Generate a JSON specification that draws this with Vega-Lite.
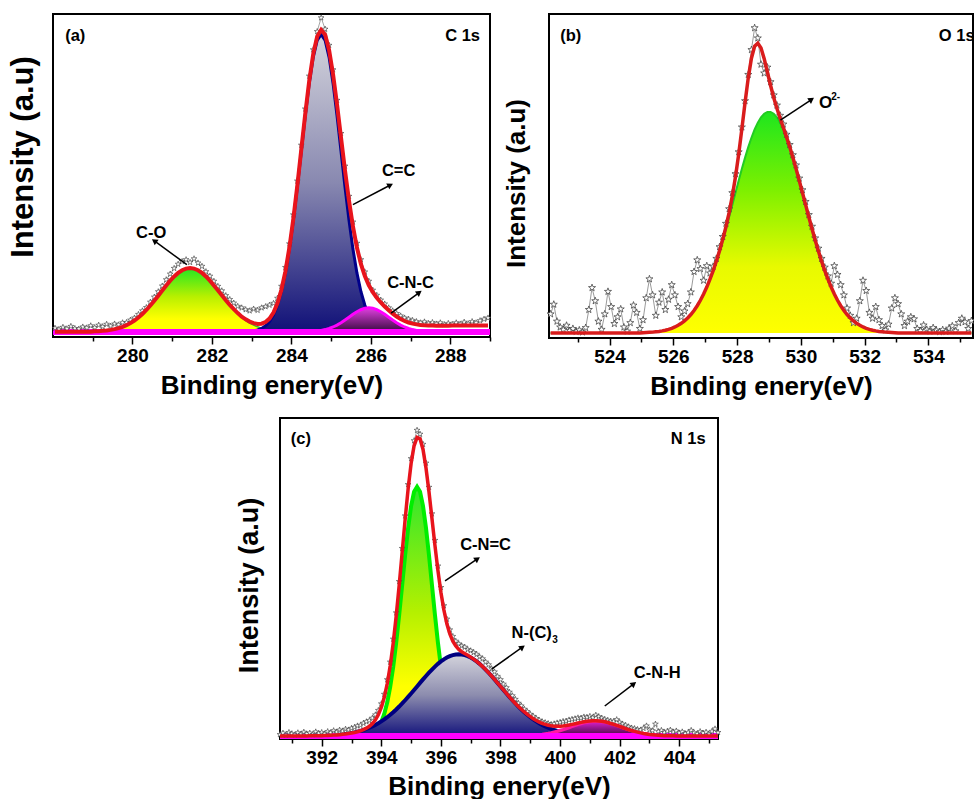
{
"$schema": "https://vega.github.io/schema/vega-lite/v6.json",
"padding": {"left": 5, "top": 12, "right": 0, "bottom": 0},
"background": "white",
"spacing": 17,
"config": {
  "font": "Liberation Sans",
  "view": {"stroke": "black", "strokeWidth": 2},
  "axis": {"domain": false, "grid": false, "tickColor": "black", "tickWidth": 1.5, "labelColor": "black", "titleColor": "black", "labelFont": "Liberation Sans", "titleFont": "Liberation Sans", "labelFontWeight": "bold", "titleFontWeight": "bold", "labelFontSize": 19, "titleFontSize": 26, "labelPadding": 2},
  "text": {"font": "Liberation Sans", "fontWeight": "bold", "fontSize": 16.5, "color": "black"}
},
"datasets": {
"a": [
{"x":278.05,"obs":1.2,"fit":0},{"x":278.15,"obs":0.8,"fit":0},{"x":278.25,"obs":1.5,"fit":0},{"x":278.35,"obs":1.0,"fit":0},{"x":278.45,"obs":1.8,"fit":0},{"x":278.55,"obs":1.1,"fit":0},{"x":278.65,"obs":0.9,"fit":0},{"x":278.75,"obs":1.6,"fit":0},{"x":278.85,"obs":1.3,"fit":0},{"x":278.95,"obs":2.0,"fit":0},
{"x":279.05,"obs":1.4,"fit":0.13,"p1":0.13},{"x":279.15,"obs":2.2,"fit":0.19,"p1":0.19},{"x":279.25,"obs":1.7,"fit":0.29,"p1":0.29},{"x":279.35,"obs":2.5,"fit":0.42,"p1":0.42},{"x":279.45,"obs":1.9,"fit":0.61,"p1":0.61},{"x":279.55,"obs":2.6,"fit":0.86,"p1":0.86},{"x":279.65,"obs":2.3,"fit":1.19,"p1":1.19},{"x":279.75,"obs":3.0,"fit":1.63,"p1":1.63},{"x":279.85,"obs":3.1,"fit":2.19,"p1":2.19},{"x":279.95,"obs":3.9,"fit":2.88,"p1":2.88},
{"x":280.05,"obs":4.6,"fit":3.73,"p1":3.73},{"x":280.15,"obs":5.8,"fit":4.74,"p1":4.74},{"x":280.25,"obs":7.0,"fit":5.92,"p1":5.92},{"x":280.35,"obs":8.1,"fit":7.27,"p1":7.27},{"x":280.45,"obs":9.9,"fit":8.76,"p1":8.76},{"x":280.55,"obs":11.6,"fit":10.37,"p1":10.37},{"x":280.65,"obs":13.4,"fit":12.06,"p1":12.06},{"x":280.75,"obs":15.3,"fit":13.78,"p1":13.78},{"x":280.85,"obs":17.4,"fit":15.47,"p1":15.47},{"x":280.95,"obs":19.3,"fit":17.06,"p1":17.06},
{"x":281.05,"obs":21.2,"fit":18.48,"p1":18.48},{"x":281.15,"obs":22.6,"fit":19.66,"p1":19.66},{"x":281.25,"obs":23.5,"fit":20.56,"p1":20.56},{"x":281.35,"obs":24.1,"fit":21.11,"p1":21.11},{"x":281.45,"obs":23.2,"fit":21.3,"p1":21.3},{"x":281.55,"obs":24.4,"fit":21.11,"p1":21.11},{"x":281.65,"obs":23.0,"fit":20.56,"p1":20.56},{"x":281.75,"obs":21.9,"fit":19.66,"p1":19.66},{"x":281.85,"obs":20.1,"fit":18.48,"p1":18.48},{"x":281.95,"obs":18.6,"fit":17.06,"p1":17.06},
{"x":282.05,"obs":16.9,"fit":15.47,"p1":15.47},{"x":282.15,"obs":15.2,"fit":13.83,"p1":13.78},{"x":282.25,"obs":13.7,"fit":12.16,"p1":12.06},{"x":282.35,"obs":12.1,"fit":10.52,"p1":10.37},{"x":282.45,"obs":10.8,"fit":8.96,"p1":8.76},{"x":282.55,"obs":9.6,"fit":7.52,"p1":7.27},{"x":282.65,"obs":8.5,"fit":6.22,"p1":5.92},{"x":282.75,"obs":8.0,"fit":5.04,"p1":4.74},{"x":282.85,"obs":7.4,"fit":4.13,"p1":3.73,"p2":0.05},{"x":282.95,"obs":7.0,"fit":3.38,"p1":2.88,"p2":0.15},
{"x":283.05,"obs":7.6,"fit":2.85,"p1":2.19,"p2":0.31},{"x":283.15,"obs":7.2,"fit":2.58,"p1":1.63,"p2":0.6},{"x":283.25,"obs":8.0,"fit":2.69,"p1":1.19,"p2":1.1},{"x":283.35,"obs":8.4,"fit":3.23,"p1":0.86,"p2":1.97},{"x":283.45,"obs":8.9,"fit":4.39,"p1":0.61,"p2":3.38},{"x":283.55,"obs":9.5,"fit":6.4,"p1":0.42,"p2":5.58},{"x":283.65,"obs":11.2,"fit":9.53,"p1":0.29,"p2":8.84},{"x":283.75,"obs":15.2,"fit":14.04,"p1":0.19,"p2":13.45},{"x":283.85,"obs":21.5,"fit":20.2,"p1":0.13,"p2":19.67},{"x":283.95,"obs":29.4,"fit":28.11,"p1":0.08,"p2":27.63},
{"x":284.05,"obs":39.1,"fit":37.8,"p1":0.05,"p2":37.3},{"x":284.15,"obs":50.4,"fit":48.9,"p2":48.39},{"x":284.25,"obs":62.4,"fit":60.91,"p2":60.29},{"x":284.35,"obs":74.5,"fit":72.92,"p2":72.17,"p3":0.05},{"x":284.45,"obs":85.5,"fit":83.92,"p2":83.03,"p3":0.09},{"x":284.55,"obs":94.3,"fit":92.82,"p2":91.76,"p3":0.16},{"x":284.65,"obs":100.4,"fit":98.7,"p2":97.43,"p3":0.27},{"x":284.75,"obs":105.0,"fit":100.95,"p2":99.4,"p3":0.45},{"x":284.85,"obs":101.2,"fit":99.34,"p2":97.43,"p3":0.71},{"x":284.95,"obs":95.8,"fit":94.14,"p2":91.76,"p3":1.08},
{"x":285.05,"obs":87.6,"fit":86.01,"p2":83.03,"p3":1.58},{"x":285.15,"obs":77.4,"fit":75.89,"p2":72.17,"p3":2.22},{"x":285.25,"obs":66.3,"fit":64.89,"p2":60.29,"p3":3.0},{"x":285.35,"obs":55.4,"fit":53.93,"p2":48.39,"p3":3.89},{"x":285.45,"obs":45.3,"fit":43.85,"p2":37.3,"p3":4.85},{"x":285.55,"obs":36.7,"fit":35.19,"p2":27.63,"p3":5.81},{"x":285.65,"obs":29.6,"fit":28.15,"p2":19.67,"p3":6.68},{"x":285.75,"obs":24.1,"fit":22.68,"p2":13.45,"p3":7.38},{"x":285.85,"obs":20.0,"fit":18.58,"p2":8.84,"p3":7.84},{"x":285.95,"obs":16.9,"fit":15.53,"p2":5.58,"p3":8},
{"x":286.05,"obs":13.9,"fit":13.22,"p2":3.38,"p3":7.84},{"x":286.15,"obs":12.2,"fit":11.35,"p2":1.97,"p3":7.38},{"x":286.25,"obs":10.6,"fit":9.78,"p2":1.1,"p3":6.68},{"x":286.35,"obs":9.3,"fit":8.41,"p2":0.6,"p3":5.81},{"x":286.45,"obs":8.0,"fit":7.16,"p2":0.31,"p3":4.85},{"x":286.55,"obs":7.0,"fit":6.04,"p2":0.15,"p3":3.89},{"x":286.65,"obs":6.1,"fit":5.07,"p2":0.07,"p3":3.0},{"x":286.75,"obs":5.3,"fit":4.22,"p3":2.22},{"x":286.85,"obs":4.6,"fit":3.58,"p3":1.58},{"x":286.95,"obs":4.2,"fit":3.08,"p3":1.08},
{"x":287.05,"obs":3.8,"fit":2.71,"p3":0.71},{"x":287.15,"obs":3.4,"fit":2.45,"p3":0.45},{"x":287.25,"obs":3.0,"fit":2.27,"p3":0.27},{"x":287.35,"obs":3.3,"fit":2.16,"p3":0.16},{"x":287.45,"obs":2.8,"fit":2.09,"p3":0.09},{"x":287.55,"obs":3.1,"fit":2.05,"p3":0.05},{"x":287.65,"obs":2.6,"fit":2.0},{"x":287.75,"obs":3.0,"fit":2.0},{"x":287.85,"obs":2.4,"fit":2.0},{"x":287.95,"obs":2.8,"fit":2.0},
{"x":288.05,"obs":2.5,"fit":2.05},{"x":288.15,"obs":3.0,"fit":2.05},{"x":288.25,"obs":2.6,"fit":2.05},{"x":288.35,"obs":3.2,"fit":2.05},{"x":288.45,"obs":2.7,"fit":2.1},{"x":288.55,"obs":3.4,"fit":2.1},{"x":288.65,"obs":3.0,"fit":2.1},{"x":288.75,"obs":3.7,"fit":2.1},{"x":288.85,"obs":4.2,"fit":2.1},{"x":288.95,"obs":4.6,"fit":2.1}
],
"b": [
{"x":522.15,"obs":6.5,"fit":0,"p1":0},{"x":522.25,"obs":9.8,"fit":0,"p1":0},{"x":522.35,"obs":4.0,"fit":0,"p1":0},{"x":522.45,"obs":2.0,"fit":0,"p1":0},{"x":522.55,"obs":1.2,"fit":0,"p1":0},{"x":522.65,"obs":2.6,"fit":0,"p1":0},{"x":522.75,"obs":0.8,"fit":0,"p1":0},{"x":522.85,"obs":1.5,"fit":0,"p1":0},{"x":522.95,"obs":0.5,"fit":0,"p1":0},
{"x":523.05,"obs":1.0,"fit":0,"p1":0},{"x":523.15,"obs":0.3,"fit":0,"p1":0},{"x":523.25,"obs":1.8,"fit":0,"p1":0},{"x":523.35,"obs":8.0,"fit":0,"p1":0},{"x":523.45,"obs":15.5,"fit":0,"p1":0},{"x":523.55,"obs":11.0,"fit":0,"p1":0},{"x":523.65,"obs":4.0,"fit":0,"p1":0},{"x":523.75,"obs":1.2,"fit":0,"p1":0},{"x":523.85,"obs":6.5,"fit":0,"p1":0},{"x":523.95,"obs":14.2,"fit":0,"p1":0},
{"x":524.05,"obs":9.0,"fit":0,"p1":0},{"x":524.15,"obs":3.2,"fit":0,"p1":0},{"x":524.25,"obs":5.5,"fit":0,"p1":0},{"x":524.35,"obs":8.2,"fit":0,"p1":0},{"x":524.45,"obs":2.0,"fit":0,"p1":0},{"x":524.55,"obs":0.6,"fit":0,"p1":0},{"x":524.65,"obs":3.5,"fit":0,"p1":0},{"x":524.75,"obs":9.5,"fit":0,"p1":0},{"x":524.85,"obs":7.0,"fit":0,"p1":0},{"x":524.95,"obs":1.5,"fit":0,"p1":0},
{"x":525.05,"obs":4.5,"fit":0.12,"p1":0.12},{"x":525.15,"obs":12.0,"fit":0.17,"p1":0.17},{"x":525.25,"obs":18.5,"fit":0.23,"p1":0.23},{"x":525.35,"obs":13.0,"fit":0.31,"p1":0.31},{"x":525.45,"obs":6.0,"fit":0.42,"p1":0.42},{"x":525.55,"obs":10.5,"fit":0.55,"p1":0.55},{"x":525.65,"obs":14.0,"fit":0.73,"p1":0.73},{"x":525.75,"obs":8.0,"fit":0.96,"p1":0.96},{"x":525.85,"obs":11.5,"fit":1.26,"p1":1.26},{"x":525.95,"obs":16.5,"fit":1.62,"p1":1.62},
{"x":526.05,"obs":13.0,"fit":2.08,"p1":2.08},{"x":526.15,"obs":9.0,"fit":2.64,"p1":2.64},{"x":526.25,"obs":5.5,"fit":3.33,"p1":3.33},{"x":526.35,"obs":7.5,"fit":4.16,"p1":4.16},{"x":526.45,"obs":10.0,"fit":5.16,"p1":5.16},{"x":526.55,"obs":14.0,"fit":6.34,"p1":6.34},{"x":526.65,"obs":21.0,"fit":7.73,"p1":7.73},{"x":526.75,"obs":25.0,"fit":9.35,"p1":9.35},{"x":526.85,"obs":22.0,"fit":11.22,"p1":11.22},{"x":526.95,"obs":18.0,"fit":13.35,"p1":13.35},
{"x":527.05,"obs":23.0,"fit":15.75,"p1":15.75},{"x":527.15,"obs":20.5,"fit":18.43,"p1":18.43},{"x":527.25,"obs":22.8,"fit":21.38,"p1":21.38},{"x":527.35,"obs":25.5,"fit":24.65,"p1":24.61},{"x":527.45,"obs":29.5,"fit":28.19,"p1":28.08},{"x":527.55,"obs":33.0,"fit":32.09,"p1":31.8},{"x":527.65,"obs":37.5,"fit":36.38,"p1":35.69},{"x":527.75,"obs":42.5,"fit":41.25,"p1":39.74},{"x":527.85,"obs":48.0,"fit":46.9,"p1":43.89},{"x":527.95,"obs":54.5,"fit":53.54,"p1":48.07},
{"x":528.05,"obs":62.0,"fit":61.25,"p1":52.2},{"x":528.15,"obs":70.5,"fit":69.92,"p1":56.24},{"x":528.25,"obs":79.5,"fit":78.94,"p1":60.08},{"x":528.35,"obs":88.5,"fit":87.38,"p1":63.66},{"x":528.45,"obs":97.0,"fit":94.11,"p1":66.89},{"x":528.55,"obs":104.5,"fit":98.21,"p1":69.71},{"x":528.65,"obs":101.0,"fit":99.28,"p1":72.06},{"x":528.75,"obs":92.0,"fit":97.59,"p1":73.87},{"x":528.85,"obs":89.0,"fit":93.96,"p1":75.1},{"x":528.95,"obs":91.0,"fit":89.4,"p1":75.72},
{"x":529.05,"obs":86.0,"fit":84.77,"p1":75.72},{"x":529.15,"obs":81.5,"fit":80.57,"p1":75.1},{"x":529.25,"obs":78.0,"fit":76.88,"p1":73.87},{"x":529.35,"obs":74.5,"fit":73.57,"p1":72.06},{"x":529.45,"obs":71.5,"fit":70.4,"p1":69.71},{"x":529.55,"obs":68.0,"fit":67.18,"p1":66.89},{"x":529.65,"obs":64.5,"fit":63.77,"p1":63.66},{"x":529.75,"obs":61.0,"fit":60.12,"p1":60.08},{"x":529.85,"obs":57.5,"fit":56.24,"p1":56.24},{"x":529.95,"obs":53.0,"fit":52.2,"p1":52.2},
{"x":530.05,"obs":49.0,"fit":48.07,"p1":48.07},{"x":530.15,"obs":45.0,"fit":43.89,"p1":43.89},{"x":530.25,"obs":40.5,"fit":39.74,"p1":39.74},{"x":530.35,"obs":36.5,"fit":35.69,"p1":35.69},{"x":530.45,"obs":32.5,"fit":31.8,"p1":31.8},{"x":530.55,"obs":29.0,"fit":28.08,"p1":28.08},{"x":530.65,"obs":25.5,"fit":24.61,"p1":24.61},{"x":530.75,"obs":22.5,"fit":21.38,"p1":21.38},{"x":530.85,"obs":19.5,"fit":18.43,"p1":18.43},{"x":530.95,"obs":17.0,"fit":15.75,"p1":15.75},
{"x":531.05,"obs":23.0,"fit":13.35,"p1":13.35},{"x":531.15,"obs":20.0,"fit":11.22,"p1":11.22},{"x":531.25,"obs":16.5,"fit":9.35,"p1":9.35},{"x":531.35,"obs":13.0,"fit":7.73,"p1":7.73},{"x":531.45,"obs":8.5,"fit":6.34,"p1":6.34},{"x":531.55,"obs":6.0,"fit":5.16,"p1":5.16},{"x":531.65,"obs":3.5,"fit":4.16,"p1":4.16},{"x":531.75,"obs":5.0,"fit":3.33,"p1":3.33},{"x":531.85,"obs":11.0,"fit":2.64,"p1":2.64},{"x":531.95,"obs":18.0,"fit":2.08,"p1":2.08},
{"x":532.05,"obs":14.5,"fit":1.62,"p1":1.62},{"x":532.15,"obs":7.0,"fit":1.26,"p1":1.26},{"x":532.25,"obs":5.0,"fit":0.96,"p1":0.96},{"x":532.35,"obs":9.0,"fit":0.73,"p1":0.73},{"x":532.45,"obs":4.5,"fit":0.55,"p1":0.55},{"x":532.55,"obs":2.5,"fit":0.42,"p1":0.42},{"x":532.65,"obs":1.0,"fit":0.31,"p1":0.31},{"x":532.75,"obs":3.0,"fit":0.23,"p1":0.23},{"x":532.85,"obs":8.5,"fit":0.17,"p1":0.17},{"x":532.95,"obs":12.0,"fit":0.12,"p1":0.12},
{"x":533.05,"obs":10.0,"fit":0,"p1":0},{"x":533.15,"obs":6.5,"fit":0,"p1":0},{"x":533.25,"obs":2.5,"fit":0,"p1":0},{"x":533.35,"obs":4.0,"fit":0,"p1":0},{"x":533.45,"obs":5.5,"fit":0,"p1":0},{"x":533.55,"obs":4.8,"fit":0,"p1":0},{"x":533.65,"obs":1.5,"fit":0,"p1":0},{"x":533.75,"obs":0.8,"fit":0,"p1":0},{"x":533.85,"obs":2.7,"fit":0,"p1":0},{"x":533.95,"obs":1.2,"fit":0,"p1":0},
{"x":534.05,"obs":0.6,"fit":0,"p1":0},{"x":534.15,"obs":1.8,"fit":0,"p1":0},{"x":534.25,"obs":0.9,"fit":0,"p1":0},{"x":534.35,"obs":0.4,"fit":0,"p1":0},{"x":534.45,"obs":1.1,"fit":0,"p1":0},{"x":534.55,"obs":0.5,"fit":0,"p1":0},{"x":534.65,"obs":1.6,"fit":0,"p1":0},{"x":534.75,"obs":2.4,"fit":0,"p1":0},{"x":534.85,"obs":0.7,"fit":0,"p1":0},{"x":534.95,"obs":3.5,"fit":0,"p1":0},
{"x":535.05,"obs":5.0,"fit":0,"p1":0},{"x":535.15,"obs":3.8,"fit":0,"p1":0},{"x":535.25,"obs":1.5,"fit":0,"p1":0},{"x":535.35,"obs":4.2,"fit":0,"p1":0}
],
"c": [
{"x":390.6,"obs":0.5,"fit":0},{"x":390.7,"obs":1.0,"fit":0},{"x":390.8,"obs":0.3,"fit":0},{"x":390.9,"obs":1.2,"fit":0},{"x":391.0,"obs":0.8,"fit":0},{"x":391.1,"obs":0.4,"fit":0},{"x":391.2,"obs":1.1,"fit":0},{"x":391.3,"obs":0.6,"fit":0},{"x":391.4,"obs":1.3,"fit":0},{"x":391.5,"obs":0.7,"fit":0},
{"x":391.6,"obs":1.0,"fit":0.05,"p2":0.05},{"x":391.7,"obs":0.5,"fit":0.06,"p2":0.06},{"x":391.8,"obs":1.4,"fit":0.08,"p2":0.08},{"x":391.9,"obs":0.9,"fit":0.1,"p2":0.1},{"x":392.0,"obs":1.2,"fit":0.12,"p2":0.12},{"x":392.1,"obs":0.7,"fit":0.16,"p2":0.16},{"x":392.2,"obs":1.5,"fit":0.2,"p2":0.2},{"x":392.3,"obs":1.1,"fit":0.24,"p2":0.24},{"x":392.4,"obs":1.8,"fit":0.3,"p2":0.3},{"x":392.5,"obs":1.3,"fit":0.38,"p2":0.38},
{"x":392.6,"obs":2.0,"fit":0.46,"p2":0.46},{"x":392.7,"obs":1.6,"fit":0.56,"p2":0.56},{"x":392.8,"obs":2.3,"fit":0.69,"p2":0.69},{"x":392.9,"obs":2.0,"fit":0.83,"p2":0.83},{"x":393.0,"obs":2.6,"fit":1.01,"p2":1.01},{"x":393.1,"obs":2.9,"fit":1.2,"p2":1.2},{"x":393.2,"obs":3.4,"fit":1.44,"p2":1.44},{"x":393.3,"obs":3.6,"fit":1.76,"p1":0.06,"p2":1.7},{"x":393.4,"obs":4.3,"fit":2.14,"p1":0.13,"p2":2.01},{"x":393.5,"obs":4.8,"fit":2.62,"p1":0.26,"p2":2.36},
{"x":393.6,"obs":5.2,"fit":3.26,"p1":0.5,"p2":2.76},{"x":393.7,"obs":6.0,"fit":4.14,"p1":0.93,"p2":3.21},{"x":393.8,"obs":7.1,"fit":5.36,"p1":1.65,"p2":3.71},{"x":393.9,"obs":8.6,"fit":7.11,"p1":2.84,"p2":4.27},{"x":394.0,"obs":10.8,"fit":9.57,"p1":4.68,"p2":4.89},{"x":394.1,"obs":14.0,"fit":12.98,"p1":7.42,"p2":5.56},{"x":394.2,"obs":18.9,"fit":17.6,"p1":11.3,"p2":6.3},{"x":394.3,"obs":24.8,"fit":23.63,"p1":16.52,"p2":7.11},{"x":394.4,"obs":32.5,"fit":31.18,"p1":23.21,"p2":7.97},{"x":394.5,"obs":41.3,"fit":40.24,"p1":31.34,"p2":8.9},
{"x":394.6,"obs":51.8,"fit":50.53,"p1":40.65,"p2":9.88},{"x":394.7,"obs":62.9,"fit":61.55,"p1":50.64,"p2":10.91},{"x":394.8,"obs":73.8,"fit":72.62,"p1":60.63,"p2":11.99},{"x":394.9,"obs":84.3,"fit":82.86,"p1":69.75,"p2":13.11},{"x":395.0,"obs":93.0,"fit":91.34,"p1":77.08,"p2":14.26},{"x":395.1,"obs":99.0,"fit":97.28,"p1":81.85,"p2":15.43},{"x":395.2,"obs":102.5,"fit":100.12,"p1":83.5,"p2":16.62},{"x":395.3,"obs":101.2,"fit":99.65,"p1":81.85,"p2":17.8},{"x":395.4,"obs":97.8,"fit":96.06,"p1":77.08,"p2":18.98},{"x":395.5,"obs":91.5,"fit":89.87,"p1":69.75,"p2":20.12},
{"x":395.6,"obs":83.4,"fit":81.86,"p1":60.63,"p2":21.23},{"x":395.7,"obs":74.5,"fit":72.92,"p1":50.64,"p2":22.28},{"x":395.8,"obs":65.6,"fit":63.92,"p1":40.65,"p2":23.27},{"x":395.9,"obs":57.0,"fit":55.52,"p1":31.34,"p2":24.18},{"x":396.0,"obs":49.8,"fit":48.21,"p1":23.21,"p2":25.0},{"x":396.1,"obs":43.7,"fit":42.23,"p1":16.52,"p2":25.71},{"x":396.2,"obs":39.2,"fit":37.6,"p1":11.3,"p2":26.3},{"x":396.3,"obs":35.6,"fit":34.2,"p1":7.42,"p2":26.78},{"x":396.4,"obs":33.4,"fit":31.8,"p1":4.68,"p2":27.12},{"x":396.5,"obs":31.8,"fit":30.17,"p1":2.84,"p2":27.33},
{"x":396.6,"obs":30.9,"fit":29.05,"p1":1.65,"p2":27.4},{"x":396.7,"obs":30.2,"fit":28.26,"p1":0.93,"p2":27.33},{"x":396.8,"obs":29.8,"fit":27.62,"p1":0.5,"p2":27.12},{"x":396.9,"obs":29.0,"fit":27.04,"p1":0.26,"p2":26.78},{"x":397.0,"obs":28.6,"fit":26.43,"p1":0.13,"p2":26.3},{"x":397.1,"obs":28.0,"fit":25.77,"p1":0.06,"p2":25.71},{"x":397.2,"obs":27.4,"fit":25.0,"p2":25.0},{"x":397.3,"obs":26.5,"fit":24.18,"p2":24.18},{"x":397.4,"obs":25.9,"fit":23.27,"p2":23.27},{"x":397.5,"obs":24.8,"fit":22.28,"p2":22.28},
{"x":397.6,"obs":23.9,"fit":21.23,"p2":21.23},{"x":397.7,"obs":22.6,"fit":20.12,"p2":20.12},{"x":397.8,"obs":21.5,"fit":18.98,"p2":18.98},{"x":397.9,"obs":20.0,"fit":17.8,"p2":17.8},{"x":398.0,"obs":18.9,"fit":16.62,"p2":16.62},{"x":398.1,"obs":17.4,"fit":15.43,"p2":15.43},{"x":398.2,"obs":16.2,"fit":14.26,"p2":14.26},{"x":398.3,"obs":14.7,"fit":13.11,"p2":13.11},{"x":398.4,"obs":13.5,"fit":11.99,"p2":11.99},{"x":398.5,"obs":12.3,"fit":10.91,"p2":10.91},
{"x":398.6,"obs":11.0,"fit":9.93,"p2":9.88,"p3":0.05},{"x":398.7,"obs":10.1,"fit":8.97,"p2":8.9,"p3":0.07},{"x":398.8,"obs":9.0,"fit":8.06,"p2":7.97,"p3":0.09},{"x":398.9,"obs":8.2,"fit":7.24,"p2":7.11,"p3":0.13},{"x":399.0,"obs":7.3,"fit":6.48,"p2":6.3,"p3":0.18},{"x":399.1,"obs":6.6,"fit":5.8,"p2":5.56,"p3":0.24},{"x":399.2,"obs":5.9,"fit":5.2,"p2":4.89,"p3":0.31},{"x":399.3,"obs":5.3,"fit":4.68,"p2":4.27,"p3":0.41},{"x":399.4,"obs":4.8,"fit":4.24,"p2":3.71,"p3":0.53},{"x":399.5,"obs":4.5,"fit":3.89,"p2":3.21,"p3":0.68},
{"x":399.6,"obs":4.2,"fit":3.61,"p2":2.76,"p3":0.85},{"x":399.7,"obs":3.9,"fit":3.41,"p2":2.36,"p3":1.05},{"x":399.8,"obs":4.1,"fit":3.3,"p2":2.01,"p3":1.29},{"x":399.9,"obs":4.4,"fit":3.25,"p2":1.7,"p3":1.55},{"x":400.0,"obs":4.6,"fit":3.29,"p2":1.44,"p3":1.85},{"x":400.1,"obs":4.9,"fit":3.36,"p2":1.2,"p3":2.16},{"x":400.2,"obs":5.0,"fit":3.51,"p2":1.01,"p3":2.5},{"x":400.3,"obs":5.4,"fit":3.68,"p2":0.83,"p3":2.85},{"x":400.4,"obs":5.6,"fit":3.9,"p2":0.69,"p3":3.21},{"x":400.5,"obs":5.8,"fit":4.12,"p2":0.56,"p3":3.56},
{"x":400.6,"obs":6.1,"fit":4.36,"p2":0.46,"p3":3.9},{"x":400.7,"obs":6.0,"fit":4.58,"p2":0.38,"p3":4.2},{"x":400.8,"obs":6.4,"fit":4.78,"p2":0.3,"p3":4.48},{"x":400.9,"obs":6.3,"fit":4.94,"p2":0.24,"p3":4.7},{"x":401.0,"obs":6.6,"fit":5.06,"p2":0.2,"p3":4.86},{"x":401.1,"obs":6.2,"fit":5.13,"p2":0.16,"p3":4.97},{"x":401.2,"obs":7.0,"fit":5.12,"p2":0.12,"p3":5.0},{"x":401.3,"obs":6.5,"fit":5.07,"p2":0.1,"p3":4.97},{"x":401.4,"obs":6.0,"fit":4.94,"p2":0.08,"p3":4.86},{"x":401.5,"obs":5.6,"fit":4.76,"p2":0.06,"p3":4.7},
{"x":401.6,"obs":5.3,"fit":4.53,"p2":0.05,"p3":4.48},{"x":401.7,"obs":5.0,"fit":4.2,"p3":4.2},{"x":401.8,"obs":4.9,"fit":3.9,"p3":3.9},{"x":401.9,"obs":5.5,"fit":3.56,"p3":3.56},{"x":402.0,"obs":4.6,"fit":3.21,"p3":3.21},{"x":402.1,"obs":4.0,"fit":2.85,"p3":2.85},{"x":402.2,"obs":3.6,"fit":2.5,"p3":2.5},{"x":402.3,"obs":3.1,"fit":2.16,"p3":2.16},{"x":402.4,"obs":2.7,"fit":1.85,"p3":1.85},{"x":402.5,"obs":2.5,"fit":1.55,"p3":1.55},
{"x":402.6,"obs":2.2,"fit":1.29,"p3":1.29},{"x":402.7,"obs":2.0,"fit":1.05,"p3":1.05},{"x":402.8,"obs":2.6,"fit":0.85,"p3":0.85},{"x":402.9,"obs":3.4,"fit":0.68,"p3":0.68},{"x":403.0,"obs":2.1,"fit":0.53,"p3":0.53},{"x":403.1,"obs":1.8,"fit":0.41,"p3":0.41},{"x":403.2,"obs":4.0,"fit":0.31,"p3":0.31},{"x":403.3,"obs":1.5,"fit":0.24,"p3":0.24},{"x":403.4,"obs":1.9,"fit":0.18,"p3":0.18},{"x":403.5,"obs":1.2,"fit":0.13,"p3":0.13},
{"x":403.6,"obs":1.6,"fit":0.09,"p3":0.09},{"x":403.7,"obs":2.0,"fit":0.07,"p3":0.07},{"x":403.8,"obs":1.3,"fit":0.05,"p3":0.05},{"x":403.9,"obs":1.7,"fit":0},{"x":404.0,"obs":1.0,"fit":0},{"x":404.1,"obs":1.4,"fit":0},{"x":404.2,"obs":0.8,"fit":0},{"x":404.3,"obs":1.2,"fit":0},{"x":404.4,"obs":1.9,"fit":0},{"x":404.5,"obs":1.1,"fit":0},
{"x":404.6,"obs":0.7,"fit":0},{"x":404.7,"obs":1.5,"fit":0},{"x":404.8,"obs":1.0,"fit":0},{"x":404.9,"obs":1.3,"fit":0},{"x":405.0,"obs":0.6,"fit":0},{"x":405.1,"obs":1.6,"fit":0},{"x":405.2,"obs":2.4,"fit":0},{"x":405.3,"obs":1.2,"fit":0}
],
"ta": [{"x":278.56,"y":98.8,"t":"(a)"},{"x":288.31,"y":98.8,"t":"C 1s"},{"x":280.47,"y":33.1,"t":"C-O"},{"x":286.7,"y":53.9,"t":"C=C"},{"x":287.0,"y":16.3,"t":"C-N-C"}],
"arra": [{"k":"co","x":281.37,"y":22.4,"x2":280.57,"y2":30.2},{"k":"cc","x":285.55,"y":42.5,"x2":286.47,"y2":48.9},{"k":"cnc","x":286.51,"y":6.25,"x2":287.2,"y2":12.9}],
"tb": [{"x":522.78,"y":101.8,"t":"(b)"},{"x":534.89,"y":101.8,"t":"O 1s"}],
"tbo": [{"x":530.57,"y":78.9,"t":"O"}],
"tbs": [{"x":530.95,"y":80.8,"t":"2-"}],
"arrb": [{"k":"o","x":529.36,"y":72.9,"x2":530.31,"y2":79.8}],
"tc": [{"x":391.3,"y":99.6,"t":"(c)"},{"x":404.3,"y":99.6,"t":"N 1s"},{"x":397.5,"y":64.0,"t":"C-N=C"},{"x":403.26,"y":21.0,"t":"C-N-H"}],
"tcn": [{"x":398.37,"y":34.4,"t":"N-(C)"}],
"tcs": [{"x":399.74,"y":32.3,"t":"3"}],
"arrc": [{"k":"a","x":396.14,"y":52.0,"x2":397.2,"y2":59.2},{"k":"b","x":397.7,"y":22.4,"x2":398.71,"y2":29.6},{"k":"c","x":401.5,"y":10.06,"x2":402.45,"y2":17.3}]
},
"vconcat": [
{"hconcat": [
{
"width": 437, "height": 323,
"data": {"name": "a"},
"encoding": {"x": {"field": "x", "type": "quantitative", "scale": {"domain": [278, 289], "nice": false, "zero": false},
  "axis": {"title": "Binding enery(eV)", "values": [279,280,281,282,283,284,285,286,287,288,289], "format": "d", "labelExpr": "datum.value % 2 == 0 ? datum.label : ''", "tickSize": {"condition": {"test": "datum.value % 2 == 0", "value": 7}, "value": 4}, "titleY": 56, "titleBaseline": "alphabetic", "labelOverlap": false, "labelFlush": false}}},
"layer": [
{"mark": {"type": "area", "fill": {"gradient": "linear", "x1": 0, "y1": 0, "x2": 0, "y2": 1, "stops": [{"offset": 0, "color": "#22e622"}, {"offset": 0.45, "color": "#b8f000"}, {"offset": 0.8, "color": "#ffff00"}, {"offset": 1, "color": "#ffff00"}]}},
 "encoding": {"y": {"field": "p1", "type": "quantitative", "scale": {"domain": [-1.77, 106.25], "nice": false, "zero": false}, "axis": {"title": "Intensity (a.u)", "labels": false, "ticks": false, "titleFontSize": 31, "titleX": -30, "titleY": 142.5, "titleBaseline": "middle", "titleAlign": "center"}}, "y2": {"datum": 0}}},
{"mark": {"type": "line", "color": "#33bb33", "strokeWidth": 1.5}, "encoding": {"y": {"field": "p1", "type": "quantitative", "scale": {"domain": [-1.77, 106.25], "nice": false, "zero": false}}}},
{"mark": {"type": "area", "fill": {"gradient": "linear", "x1": 0, "y1": 0, "x2": 0, "y2": 1, "stops": [{"offset": 0, "color": "#d4d4dc"}, {"offset": 0.5, "color": "#8888b0"}, {"offset": 1, "color": "#101078"}]}},
 "encoding": {"y": {"field": "p2", "type": "quantitative", "scale": {"domain": [-1.77, 106.25], "nice": false, "zero": false}}, "y2": {"datum": 0}}},
{"mark": {"type": "line", "color": "#00008b", "strokeWidth": 3}, "encoding": {"y": {"field": "p2", "type": "quantitative", "scale": {"domain": [-1.77, 106.25], "nice": false, "zero": false}}}},
{"mark": {"type": "area", "fill": {"gradient": "linear", "x1": 0, "y1": 0, "x2": 0, "y2": 1, "stops": [{"offset": 0, "color": "#e040e0"}, {"offset": 1, "color": "#3a0a40"}]}},
 "encoding": {"y": {"field": "p3", "type": "quantitative", "scale": {"domain": [-1.77, 106.25], "nice": false, "zero": false}}, "y2": {"datum": 0}}},
{"mark": {"type": "line", "color": "#ff00ff", "strokeWidth": 3}, "encoding": {"y": {"field": "p3", "type": "quantitative", "scale": {"domain": [-1.77, 106.25], "nice": false, "zero": false}}}},
{"mark": {"type": "rule", "color": "#ff00ff", "strokeWidth": 5}, "encoding": {"x": {"datum": 278, "type": "quantitative"}, "x2": {"datum": 289}, "y": {"datum": 0, "type": "quantitative", "scale": {"domain": [-1.77, 106.25], "nice": false, "zero": false}}}},
{"mark": {"type": "line", "color": "#666666", "strokeWidth": 0.6}, "encoding": {"y": {"field": "obs", "type": "quantitative", "scale": {"domain": [-1.77, 106.25], "nice": false, "zero": false}}}},
{"mark": {"type": "point", "shape": "M0,-1L0.235,-0.324L0.951,-0.309L0.38,0.124L0.588,0.809L0,0.4L-0.588,0.809L-0.38,0.124L-0.951,-0.309L-0.235,-0.324Z", "size": 36, "filled": true, "fill": "white", "stroke": "#333333", "strokeWidth": 0.6, "opacity": 1}, "encoding": {"y": {"field": "obs", "type": "quantitative", "scale": {"domain": [-1.77, 106.25], "nice": false, "zero": false}}}},
{"mark": {"type": "line", "color": "#e8141c", "strokeWidth": 4}, "encoding": {"y": {"field": "fit", "type": "quantitative", "scale": {"domain": [-1.77, 106.25], "nice": false, "zero": false}}}},
{"data": {"name": "ta"}, "mark": {"type": "text", "align": "center", "baseline": "middle"}, "encoding": {"y": {"field": "y", "type": "quantitative", "scale": {"domain": [-1.77, 106.25], "nice": false, "zero": false}}, "text": {"field": "t"}}},
{"data": {"name": "arra"}, "mark": {"type": "rule", "color": "black", "strokeWidth": 1.5}, "encoding": {"x2": {"field": "x2"}, "y": {"field": "y", "type": "quantitative", "scale": {"domain": [-1.77, 106.25], "nice": false, "zero": false}}, "y2": {"field": "y2"}}},
{"data": {"name": "arra"}, "transform": [{"filter": "datum.k == 'co'"}], "mark": {"type": "point", "shape": "triangle", "angle": -54, "size": 45, "filled": true, "color": "black", "opacity": 1}, "encoding": {"x": {"field": "x2", "type": "quantitative"}, "y": {"field": "y2", "type": "quantitative", "scale": {"domain": [-1.77, 106.25], "nice": false, "zero": false}}}},
{"data": {"name": "arra"}, "transform": [{"filter": "datum.k == 'cc'"}], "mark": {"type": "point", "shape": "triangle", "angle": 62, "size": 45, "filled": true, "color": "black", "opacity": 1}, "encoding": {"x": {"field": "x2", "type": "quantitative"}, "y": {"field": "y2", "type": "quantitative", "scale": {"domain": [-1.77, 106.25], "nice": false, "zero": false}}}},
{"data": {"name": "arra"}, "transform": [{"filter": "datum.k == 'cnc'"}], "mark": {"type": "point", "shape": "triangle", "angle": 54, "size": 45, "filled": true, "color": "black", "opacity": 1}, "encoding": {"x": {"field": "x2", "type": "quantitative"}, "y": {"field": "y2", "type": "quantitative", "scale": {"domain": [-1.77, 106.25], "nice": false, "zero": false}}}}
]
},
{
"width": 424, "height": 324,
"data": {"name": "b"},
"encoding": {"x": {"field": "x", "type": "quantitative", "scale": {"domain": [522.1, 535.4], "nice": false, "zero": false},
  "axis": {"title": "Binding enery(eV)", "values": [523,524,525,526,527,528,529,530,531,532,533,534,535], "format": "d", "labelExpr": "datum.value % 2 == 0 ? datum.label : ''", "tickSize": {"condition": {"test": "datum.value % 2 == 0", "value": 7}, "value": 4}, "titleY": 56, "titleBaseline": "alphabetic", "labelOverlap": false, "labelFlush": false}}},
"layer": [
{"mark": {"type": "area", "fill": {"gradient": "linear", "x1": 0, "y1": 0, "x2": 0, "y2": 1, "stops": [{"offset": 0, "color": "#1ee61e"}, {"offset": 0.35, "color": "#7cf000"}, {"offset": 0.7, "color": "#e8fa00"}, {"offset": 1, "color": "#ffff00"}]}},
 "encoding": {"y": {"field": "p1", "type": "quantitative", "scale": {"domain": [-1.7, 109.26], "nice": false, "zero": false}, "axis": {"title": "Intensity (a.u)", "labels": false, "ticks": false, "titleFontSize": 26, "titleX": -33, "titleY": 169, "titleBaseline": "middle", "titleAlign": "center"}}, "y2": {"datum": 0}}},
{"mark": {"type": "line", "color": "#22cc22", "strokeWidth": 2}, "encoding": {"y": {"field": "p1", "type": "quantitative", "scale": {"domain": [-1.7, 109.26], "nice": false, "zero": false}}}},
{"mark": {"type": "line", "color": "#555555", "strokeWidth": 0.6}, "encoding": {"y": {"field": "obs", "type": "quantitative", "scale": {"domain": [-1.7, 109.26], "nice": false, "zero": false}}}},
{"mark": {"type": "point", "shape": "M0,-1L0.235,-0.324L0.951,-0.309L0.38,0.124L0.588,0.809L0,0.4L-0.588,0.809L-0.38,0.124L-0.951,-0.309L-0.235,-0.324Z", "size": 55, "filled": true, "fill": "white", "stroke": "#333333", "strokeWidth": 0.7, "opacity": 1}, "encoding": {"y": {"field": "obs", "type": "quantitative", "scale": {"domain": [-1.7, 109.26], "nice": false, "zero": false}}}},
{"mark": {"type": "line", "color": "#d91c1c", "strokeWidth": 3.5}, "encoding": {"y": {"field": "fit", "type": "quantitative", "scale": {"domain": [-1.7, 109.26], "nice": false, "zero": false}}}},
{"data": {"name": "tb"}, "mark": {"type": "text", "align": "center", "baseline": "middle", "clip": true}, "encoding": {"y": {"field": "y", "type": "quantitative", "scale": {"domain": [-1.7, 109.26], "nice": false, "zero": false}}, "text": {"field": "t"}}},
{"data": {"name": "tbo"}, "mark": {"type": "text", "align": "left", "baseline": "middle", "fontSize": 17}, "encoding": {"y": {"field": "y", "type": "quantitative", "scale": {"domain": [-1.7, 109.26], "nice": false, "zero": false}}, "text": {"field": "t"}}},
{"data": {"name": "tbs"}, "mark": {"type": "text", "align": "left", "baseline": "middle", "fontSize": 10}, "encoding": {"y": {"field": "y", "type": "quantitative", "scale": {"domain": [-1.7, 109.26], "nice": false, "zero": false}}, "text": {"field": "t"}}},
{"data": {"name": "arrb"}, "mark": {"type": "rule", "color": "black", "strokeWidth": 1.5}, "encoding": {"x2": {"field": "x2"}, "y": {"field": "y", "type": "quantitative", "scale": {"domain": [-1.7, 109.26], "nice": false, "zero": false}}, "y2": {"field": "y2"}}},
{"data": {"name": "arrb"}, "mark": {"type": "point", "shape": "triangle", "angle": 56, "size": 45, "filled": true, "color": "black", "opacity": 1}, "encoding": {"x": {"field": "x2", "type": "quantitative"}, "y": {"field": "y2", "type": "quantitative", "scale": {"domain": [-1.7, 109.26], "nice": false, "zero": false}}}}
]
}
], "spacing": 4},
{"hconcat": [
{"width": 181, "height": 321, "view": {"stroke": null, "fill": null}, "data": {"values": [{"v": 1}]}, "mark": {"type": "point", "opacity": 0}, "encoding": {}},
{
"width": 438, "height": 321,
"data": {"name": "c"},
"encoding": {"x": {"field": "x", "type": "quantitative", "scale": {"domain": [390.6, 405.3], "nice": false, "zero": false},
  "axis": {"title": "Binding enery(eV)", "values": [391,392,393,394,395,396,397,398,399,400,401,402,403,404,405], "format": "d", "labelExpr": "datum.value % 2 == 0 ? datum.label : ''", "tickSize": {"condition": {"test": "datum.value % 2 == 0", "value": 7}, "value": 4}, "titleY": 55, "titleBaseline": "alphabetic", "labelOverlap": false, "labelFlush": false}}},
"layer": [
{"mark": {"type": "area", "fill": {"gradient": "linear", "x1": 0, "y1": 0, "x2": 0, "y2": 1, "stops": [{"offset": 0, "color": "#2ee62e"}, {"offset": 0.5, "color": "#b4f000"}, {"offset": 0.8, "color": "#ffff00"}, {"offset": 1, "color": "#ffff00"}]}},
 "encoding": {"y": {"field": "p1", "type": "quantitative", "scale": {"domain": [-1.0, 106.6], "nice": false, "zero": false}, "axis": {"title": "Intensity (a.u)", "labels": false, "ticks": false, "titleFontSize": 27, "titleX": -31, "titleY": 167, "titleBaseline": "middle", "titleAlign": "center"}}, "y2": {"datum": 0}}},
{"mark": {"type": "line", "color": "#00ee00", "strokeWidth": 4}, "encoding": {"y": {"field": "p1", "type": "quantitative", "scale": {"domain": [-1.0, 106.6], "nice": false, "zero": false}}}},
{"mark": {"type": "area", "fill": {"gradient": "linear", "x1": 0, "y1": 0, "x2": 0, "y2": 1, "stops": [{"offset": 0, "color": "#d4d4dc"}, {"offset": 0.5, "color": "#8c8cae"}, {"offset": 1, "color": "#14147c"}]}},
 "encoding": {"y": {"field": "p2", "type": "quantitative", "scale": {"domain": [-1.0, 106.6], "nice": false, "zero": false}}, "y2": {"datum": 0}}},
{"mark": {"type": "line", "color": "#000080", "strokeWidth": 4}, "encoding": {"y": {"field": "p2", "type": "quantitative", "scale": {"domain": [-1.0, 106.6], "nice": false, "zero": false}}}},
{"mark": {"type": "area", "fill": {"gradient": "linear", "x1": 0, "y1": 0, "x2": 0, "y2": 1, "stops": [{"offset": 0, "color": "#e020d0"}, {"offset": 1, "color": "#400a40"}]}},
 "encoding": {"y": {"field": "p3", "type": "quantitative", "scale": {"domain": [-1.0, 106.6], "nice": false, "zero": false}}, "y2": {"datum": 0}}},
{"mark": {"type": "line", "color": "#ff1aa0", "strokeWidth": 3.5}, "encoding": {"y": {"field": "p3", "type": "quantitative", "scale": {"domain": [-1.0, 106.6], "nice": false, "zero": false}}}},
{"mark": {"type": "rule", "color": "#ff00ff", "strokeWidth": 5}, "encoding": {"x": {"datum": 390.6, "type": "quantitative"}, "x2": {"datum": 405.3}, "y": {"datum": 0, "type": "quantitative", "scale": {"domain": [-1.0, 106.6], "nice": false, "zero": false}}}},
{"mark": {"type": "line", "color": "#666666", "strokeWidth": 0.6}, "encoding": {"y": {"field": "obs", "type": "quantitative", "scale": {"domain": [-1.0, 106.6], "nice": false, "zero": false}}}},
{"mark": {"type": "point", "shape": "M0,-1L0.235,-0.324L0.951,-0.309L0.38,0.124L0.588,0.809L0,0.4L-0.588,0.809L-0.38,0.124L-0.951,-0.309L-0.235,-0.324Z", "size": 36, "filled": true, "fill": "white", "stroke": "#333333", "strokeWidth": 0.6, "opacity": 1}, "encoding": {"y": {"field": "obs", "type": "quantitative", "scale": {"domain": [-1.0, 106.6], "nice": false, "zero": false}}}},
{"mark": {"type": "line", "color": "#e8141c", "strokeWidth": 3.5}, "encoding": {"y": {"field": "fit", "type": "quantitative", "scale": {"domain": [-1.0, 106.6], "nice": false, "zero": false}}}},
{"data": {"name": "tc"}, "mark": {"type": "text", "align": "center", "baseline": "middle"}, "encoding": {"y": {"field": "y", "type": "quantitative", "scale": {"domain": [-1.0, 106.6], "nice": false, "zero": false}}, "text": {"field": "t"}}},
{"data": {"name": "tcn"}, "mark": {"type": "text", "align": "left", "baseline": "middle"}, "encoding": {"y": {"field": "y", "type": "quantitative", "scale": {"domain": [-1.0, 106.6], "nice": false, "zero": false}}, "text": {"field": "t"}}},
{"data": {"name": "tcs"}, "mark": {"type": "text", "align": "left", "baseline": "middle", "fontSize": 10}, "encoding": {"y": {"field": "y", "type": "quantitative", "scale": {"domain": [-1.0, 106.6], "nice": false, "zero": false}}, "text": {"field": "t"}}},
{"data": {"name": "arrc"}, "mark": {"type": "rule", "color": "black", "strokeWidth": 1.5}, "encoding": {"x2": {"field": "x2"}, "y": {"field": "y", "type": "quantitative", "scale": {"domain": [-1.0, 106.6], "nice": false, "zero": false}}, "y2": {"field": "y2"}}},
{"data": {"name": "arrc"}, "transform": [{"filter": "datum.k == 'a'"}], "mark": {"type": "point", "shape": "triangle", "angle": 56, "size": 45, "filled": true, "color": "black", "opacity": 1}, "encoding": {"x": {"field": "x2", "type": "quantitative"}, "y": {"field": "y2", "type": "quantitative", "scale": {"domain": [-1.0, 106.6], "nice": false, "zero": false}}}},
{"data": {"name": "arrc"}, "transform": [{"filter": "datum.k == 'b'"}], "mark": {"type": "point", "shape": "triangle", "angle": 54, "size": 45, "filled": true, "color": "black", "opacity": 1}, "encoding": {"x": {"field": "x2", "type": "quantitative"}, "y": {"field": "y2", "type": "quantitative", "scale": {"domain": [-1.0, 106.6], "nice": false, "zero": false}}}},
{"data": {"name": "arrc"}, "transform": [{"filter": "datum.k == 'c'"}], "mark": {"type": "point", "shape": "triangle", "angle": 52, "size": 45, "filled": true, "color": "black", "opacity": 1}, "encoding": {"x": {"field": "x2", "type": "quantitative"}, "y": {"field": "y2", "type": "quantitative", "scale": {"domain": [-1.0, 106.6], "nice": false, "zero": false}}}}
]
}
], "spacing": 0}
]
}
